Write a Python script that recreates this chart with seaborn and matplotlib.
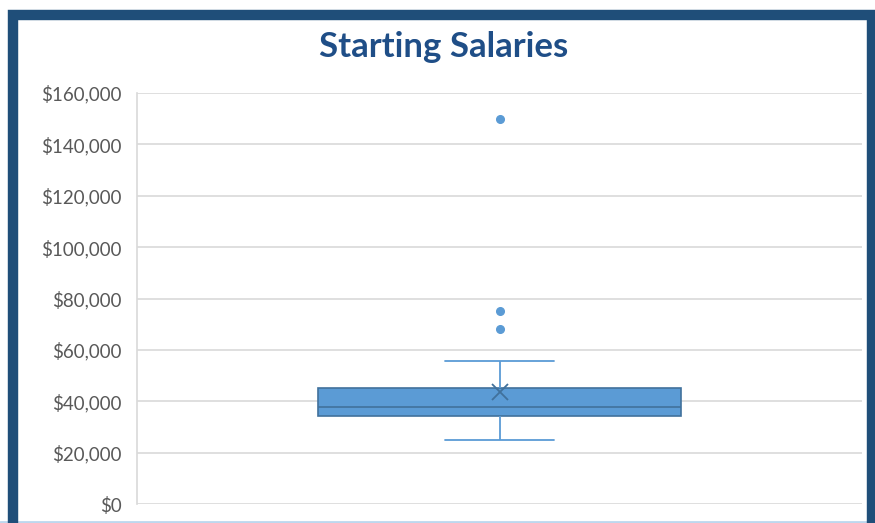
import matplotlib
matplotlib.use("Agg")
import matplotlib.pyplot as plt
import matplotlib.patches as mpatches
import matplotlib.ticker as mticker
import pandas as pd
import seaborn as sns

# Salary data (whiskers, quartiles, mean and outliers)
salaries = [25000, 26000, 26500, 27000, 27500, 28000, 34000, 34400,
            35000, 35500, 36000, 36500, 37000, 37700,
            37800, 37900, 38000, 38100, 38200, 42000, 48000,
            48500, 49000, 55500, 68000, 75000, 150000]
title = "Starting Salaries"
y_ticks = [0, 20000, 40000, 60000, 80000, 100000, 120000, 140000, 160000]

df = pd.DataFrame({"group": ["Salaries"] * len(salaries), "salary": salaries})

sns.set_style("white")
plt.rcParams["font.family"] = ["Lato", "DejaVu Sans"]

fig = plt.figure(figsize=(8.75, 5.23), dpi=100)
ax = fig.add_axes([137 / 875, 1 - 504 / 523, (862 - 137) / 875, (504 - 93) / 523])

blue = "#5B9BD5"
dark = "#41719C"

sns.boxplot(data=df, x="group", y="salary", ax=ax, width=0.5, whis=1.5,
            showmeans=True,
            boxprops=dict(facecolor=blue, edgecolor=dark, linewidth=1.2),
            medianprops=dict(color=dark, linewidth=1.2),
            whiskerprops=dict(color=blue, linewidth=1.3),
            capprops=dict(color=blue, linewidth=1.3),
            meanprops=dict(marker="x", markeredgecolor=dark, markersize=11,
                           markeredgewidth=1.3),
            flierprops=dict(marker="o", markerfacecolor=blue, markeredgecolor=blue,
                            markersize=5.5))

# cap width: shorter than box, like Excel
for line in ax.lines:
    xd = line.get_xdata()
    if len(xd) == 2 and xd[0] != xd[1] and abs((xd[1] - xd[0]) - 0.25) < 1e-6:
        mid = (xd[0] + xd[1]) / 2
        line.set_xdata([mid - 0.075, mid + 0.075])

ax.set_ylim(0, 160000)
ax.set_xlim(-0.5, 0.5)
ax.set_yticks(y_ticks)
ax.yaxis.set_major_formatter(mticker.FuncFormatter(lambda v, p: f"${v:,.0f}"))
ax.set_xticks([])
ax.set_xlabel("")
ax.set_ylabel("")
ax.grid(axis="y", color="#D9D9D9", linewidth=1.2)
ax.set_axisbelow(True)
for s in ["top", "right", "bottom"]:
    ax.spines[s].set_visible(False)
ax.spines["left"].set_color("#D9D9D9")
ax.spines["left"].set_linewidth(1.2)
ax.tick_params(axis="y", length=0, pad=11, labelsize=13.5, labelcolor="#595959")

fig.text(444 / 875, 1 - 47 / 523, title, ha="center", va="center",
         fontsize=25, fontweight="bold", color="#1F4E87")

# dark blue frame around the chart
frame = mpatches.Rectangle((13 / 875, -0.05), (872 - 13) / 875, 1 - 15 / 523 + 0.05,
                           transform=fig.transFigure, fill=False,
                           edgecolor="#1F4E79", linewidth=7.5, zorder=10)
fig.patches.append(frame)
fig.add_artist(plt.Line2D([0, 868 / 875], [1.5 / 523, 1.5 / 523],
                          transform=fig.transFigure, color="#BDD7EE", linewidth=2))

fig.savefig("out.png", dpi=100)
